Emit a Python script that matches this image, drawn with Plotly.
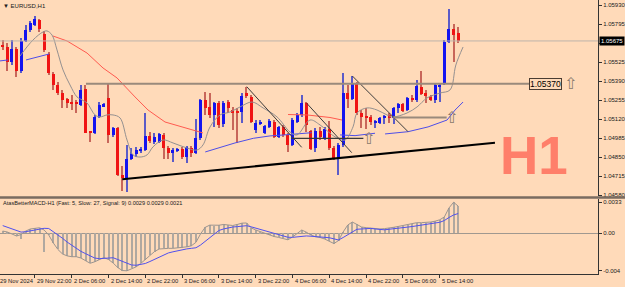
import plotly.graph_objects as go
import pandas as pd

# ---------------- data ----------------
times = list(pd.date_range("2024-11-29 15:00", "2024-11-29 23:00", freq="h")) + \
        list(pd.date_range("2024-12-02 00:00", periods=91, freq="h"))

opens = [1.05646, 1.05632, 1.05525, 1.05618, 1.05462, 1.05675, 1.05753, 1.05788, 1.05824, 1.05724,
         1.05582, 1.05440, 1.05362, 1.05305, 1.05263, 1.05241, 1.05241, 1.05220, 1.05334, 1.05028,
         1.05021, 1.05135, 1.05206, 1.05270, 1.05007, 1.05057, 1.04723, 1.04694, 1.04836, 1.04872,
         1.04893, 1.04900, 1.05000, 1.04957, 1.04957, 1.05007, 1.04914, 1.04879, 1.04893, 1.04907,
         1.04850, 1.04914, 1.04879, 1.04985, 1.05256, 1.05206, 1.05149, 1.05234, 1.05085, 1.05241,
         1.05184, 1.05177, 1.05170, 1.05305, 1.05277, 1.05042, 1.05085, 1.05021, 1.05064, 1.05099,
         1.04993, 1.05064, 1.05007, 1.04936, 1.05099, 1.05149, 1.05234, 1.05035, 1.04914, 1.05035,
         1.04985, 1.05049, 1.04914, 1.04836, 1.04936, 1.05305, 1.05263, 1.05376, 1.05163, 1.05142,
         1.05135, 1.05092, 1.05092, 1.05128, 1.05149, 1.05128, 1.05199, 1.05227, 1.05184, 1.05270,
         1.05256, 1.05348, 1.05305, 1.05277, 1.05256, 1.05348, 1.05376, 1.05668, 1.05760, 1.05732]
highs = [1.05682, 1.05661, 1.05682, 1.05632, 1.05696, 1.05788, 1.05817, 1.05852, 1.05831, 1.05746,
         1.05597, 1.05454, 1.05383, 1.05327, 1.05270, 1.05291, 1.05256, 1.05362, 1.05362, 1.05028,
         1.05149, 1.05241, 1.05234, 1.05376, 1.05064, 1.05064, 1.04787, 1.04936, 1.04914, 1.04922,
         1.04922, 1.05163, 1.05028, 1.05021, 1.05021, 1.05021, 1.04929, 1.04914, 1.04914, 1.04922,
         1.04929, 1.04929, 1.05121, 1.05263, 1.05312, 1.05305, 1.05241, 1.05248, 1.05248, 1.05256,
         1.05206, 1.05199, 1.05305, 1.05348, 1.05291, 1.05113, 1.05113, 1.05078, 1.05121, 1.05113,
         1.05071, 1.05078, 1.05021, 1.05128, 1.05163, 1.05291, 1.05241, 1.05042, 1.05057, 1.05064,
         1.05064, 1.05106, 1.04929, 1.04950, 1.05447, 1.05362, 1.05426, 1.05383, 1.05184, 1.05199,
         1.05149, 1.05113, 1.05135, 1.05149, 1.05163, 1.05206, 1.05234, 1.05234, 1.05277, 1.05291,
         1.05398, 1.05462, 1.05327, 1.05291, 1.05376, 1.05376, 1.05682, 1.05902, 1.05795, 1.05774]
lows = [1.05611, 1.05462, 1.05504, 1.05419, 1.05447, 1.05668, 1.05739, 1.05781, 1.05739, 1.05597,
        1.05433, 1.05327, 1.05291, 1.05199, 1.05199, 1.05184, 1.05163, 1.05213, 1.05021, 1.04957,
        1.05014, 1.05128, 1.05206, 1.04950, 1.04993, 1.04716, 1.04609, 1.04602, 1.04829, 1.04850,
        1.04879, 1.04893, 1.04950, 1.04943, 1.04950, 1.04836, 1.04836, 1.04815, 1.04886, 1.04836,
        1.04808, 1.04850, 1.04872, 1.04971, 1.05149, 1.05128, 1.05064, 1.05057, 1.05064, 1.05163,
        1.05042, 1.04950, 1.05092, 1.05270, 1.05092, 1.05021, 1.05078, 1.05014, 1.05057, 1.04985,
        1.04985, 1.04993, 1.04886, 1.04929, 1.05092, 1.05135, 1.05028, 1.04900, 1.04886, 1.04971,
        1.04971, 1.04900, 1.04829, 1.04723, 1.04922, 1.05199, 1.05256, 1.05149, 1.05057, 1.05049,
        1.05078, 1.05057, 1.05085, 1.05085, 1.05092, 1.05085, 1.05163, 1.05170, 1.05177, 1.05241,
        1.05241, 1.05291, 1.05234, 1.05248, 1.05234, 1.05241, 1.05362, 1.05661, 1.05525, 1.05661]
closes = [1.05632, 1.05525, 1.05618, 1.05462, 1.05675, 1.05753, 1.05803, 1.05831, 1.05760, 1.05611,
          1.05447, 1.05362, 1.05305, 1.05256, 1.05234, 1.05227, 1.05227, 1.05327, 1.05021, 1.05021,
          1.05135, 1.05220, 1.05227, 1.05007, 1.05057, 1.04723, 1.04701, 1.04836, 1.04872, 1.04900,
          1.04907, 1.05000, 1.04964, 1.04993, 1.05014, 1.04914, 1.04879, 1.04900, 1.04907, 1.04850,
          1.04922, 1.04879, 1.04985, 1.05256, 1.05199, 1.05149, 1.05234, 1.05078, 1.05234, 1.05199,
          1.05163, 1.05163, 1.05284, 1.05284, 1.05099, 1.05092, 1.05092, 1.05071, 1.05106, 1.04993,
          1.05064, 1.05007, 1.04936, 1.05113, 1.05149, 1.05234, 1.05078, 1.04907, 1.05035, 1.04993,
          1.05049, 1.04914, 1.04836, 1.04936, 1.05305, 1.05263, 1.05376, 1.05163, 1.05135, 1.05128,
          1.05099, 1.05099, 1.05128, 1.05142, 1.05128, 1.05199, 1.05227, 1.05177, 1.05270, 1.05256,
          1.05355, 1.05298, 1.05284, 1.05256, 1.05362, 1.05362, 1.05668, 1.05760, 1.05717, 1.05675]

# moving averages (bar position, price)
fast_ma_x = [3.76, 6.59, 8.76, 9.63, 10.72, 11.80, 13.11, 14.63, 16.15, 17.24, 18.33, 20.07, 21.15,
             22.67, 23.98, 25.50, 27.02, 28.33, 29.85, 31.37, 32.67, 34.85, 37.02, 40.07, 42.24, 43.54,
             45.07, 47.24, 49.41, 51.59, 54.20, 56.59, 59.63, 62.46, 63.98, 66.80, 68.98, 72.24, 74.41,
             76.15, 77.02, 79.20, 81.37, 83.54, 84.85, 87.89, 90.07, 92.24, 95.07, 97.24, 98.5, 100.07]
fast_ma_y = [1.05568, 1.05682, 1.05739, 1.05746, 1.05717, 1.05611, 1.05469, 1.05362, 1.05277, 1.05256,
             1.05234, 1.05149, 1.05135, 1.05149, 1.05149, 1.05128, 1.04971, 1.04865, 1.04850, 1.04865,
             1.04922, 1.04971, 1.04950, 1.04914, 1.04900, 1.04936, 1.05064, 1.05149, 1.05170, 1.05206,
             1.05241, 1.05199, 1.05135, 1.05028, 1.05007, 1.05113, 1.05078, 1.04993, 1.04971, 1.05064,
             1.05163, 1.05199, 1.05184, 1.05149, 1.05135, 1.05163, 1.05206, 1.05270, 1.05305, 1.05327,
             1.05504, 1.05632]
red_ma_x = [10.93, 13.98, 18.33, 21.8, 24.85, 27.02, 28.76, 31.59, 35.28, 38.98, 42.46, 43.54, None,
            62.02, 66.15, 71.15, 73.76]
red_ma_y = [1.05710, 1.05675, 1.05589, 1.05483, 1.05412, 1.05341, 1.05277, 1.05184, 1.05099, 1.05064,
            1.05028, 1.05021, None, 1.05152, 1.05149, 1.05131, 1.05113]
blue_ma_x = [-0.59, 1.15, None, 5.07, 10.07, None, 44.02, 47.24, 50.5, 54.48, 58.11, 62.46, 67.17, None,
             73.33, 76.59, 80.93, None, 83.11, 88.11, 92.46, 96.59, 98.33, 100.07]
blue_ma_y = [1.05533, 1.05540, None, 1.05540, 1.05582, None, 1.04886, 1.04919, 1.04950, 1.04983, 1.05000,
             1.05010, 1.05023, None, 1.05007, 1.05002, 1.05019, None, 1.05014, 1.05030, 1.05064, 1.05113,
             1.05184, 1.05241]

macd_line = [0.00024, 0.00014, -0.00007, -0.00029, -0.00013, 0.00024, 0.00046, 0.00056, 0.00059, 0.00035,
             -0.00018, -0.00103, -0.00172, -0.00220, -0.00240, -0.00249, -0.00249, -0.00263, -0.00290, -0.00319,
             -0.00303, -0.00279, -0.00258, -0.00279, -0.00316, -0.00364, -0.00396, -0.00399, -0.00374, -0.00357,
             -0.00321, -0.00279, -0.00231, -0.00194, -0.00167, -0.00160, -0.00160, -0.00160, -0.00156, -0.00153,
             -0.00144, -0.00133, -0.00096, -0.00007, 0.00063, 0.00087, 0.00083, 0.00086, 0.00094, 0.00085,
             0.00083, 0.00094, 0.00108, 0.00110, 0.00059, 0.00035, 0.00016, 0.00000, -0.00016, -0.00034,
             -0.00044, -0.00054, -0.00069, -0.00039, 0.00001, 0.00035, 0.00012, -0.00018, -0.00037, -0.00045,
             -0.00061, -0.00086, -0.00109, -0.00077, 0.00014, 0.00088, 0.00120, 0.00094, 0.00067, 0.00060,
             0.00053, 0.00050, 0.00046, 0.00050, 0.00054, 0.00064, 0.00073, 0.00082, 0.00090, 0.00101,
             0.00113, 0.00113, 0.00113, 0.00120, 0.00129, 0.00144, 0.00174, 0.00269, 0.00330, 0.00290]
macd_hist = [0.00024, 0.00014, -0.00007, -0.00029, -0.00061, 0.00024, 0.00046, 0.00056, 0.00059, -0.00199,
             -0.00018, -0.00103, -0.00172, -0.00220, -0.00240, -0.00249, -0.00249, -0.00263, -0.00290, -0.00319,
             -0.00303, -0.00279, -0.00258, -0.00279, -0.00316, -0.00364, -0.00396, -0.00399, -0.00374, -0.00357,
             -0.00321, -0.00279, -0.00231, -0.00194, -0.00167, -0.00160, -0.00160, -0.00160, -0.00156, -0.00153,
             -0.00144, -0.00133, -0.00096, -0.00007, 0.00063, 0.00087, 0.00083, 0.00086, 0.00094, 0.00085,
             0.00083, 0.00094, 0.00108, 0.00110, 0.00059, 0.00035, 0.00016, 0.00000, -0.00016, -0.00034,
             -0.00044, -0.00054, -0.00069, -0.00039, 0.00001, 0.00035, 0.00012, -0.00018, -0.00037, -0.00045,
             -0.00061, -0.00086, -0.00109, -0.00077, 0.00014, 0.00088, 0.00120, 0.00094, 0.00067, 0.00060,
             0.00053, 0.00050, 0.00046, 0.00050, 0.00054, 0.00064, 0.00073, 0.00082, 0.00090, 0.00101,
             0.00113, 0.00113, 0.00113, 0.00120, 0.00129, 0.00144, 0.00174, 0.00269, 0.00330, 0.00290]
macd_signal = [0.00082, 0.00063, 0.00046, 0.00026, 0.00013, 0.00017, 0.00026, 0.00038, 0.00052, 0.00053,
               0.00051, 0.00018, -0.00012, -0.00053, -0.00093, -0.00127, -0.00161, -0.00192, -0.00216, -0.00240,
               -0.00263, -0.00270, -0.00266, -0.00263, -0.00260, -0.00279, -0.00298, -0.00317, -0.00337, -0.00340,
               -0.00334, -0.00321, -0.00300, -0.00278, -0.00254, -0.00229, -0.00209, -0.00197, -0.00185, -0.00174,
               -0.00166, -0.00160, -0.00154, -0.00125, -0.00086, -0.00049, -0.00005, 0.00030, 0.00046, 0.00059,
               0.00067, 0.00071, 0.00077, 0.00081, 0.00069, 0.00055, 0.00042, 0.00027, 0.00012, -0.00002,
               -0.00016, -0.00030, -0.00042, -0.00043, -0.00036, -0.00028, -0.00028, -0.00031, -0.00035, -0.00037,
               -0.00038, -0.00047, -0.00059, -0.00071, -0.00045, -0.00018, 0.00014, 0.00043, 0.00046, 0.00050,
               0.00052, 0.00046, 0.00039, 0.00037, 0.00043, 0.00047, 0.00052, 0.00059, 0.00066, 0.00072,
               0.00078, 0.00086, 0.00094, 0.00101, 0.00110, 0.00117, 0.00136, 0.00168, 0.00195, 0.00210]

price_ticks = [1.04580, 1.04715, 1.04850, 1.04985, 1.05120, 1.05255, 1.05390, 1.05525, 1.05660, 1.05795, 1.05930]
macd_ticks = [0.0033, 0.0, -0.004]
macd_tick_text = ["0.0033", "0.00", "-0.004"]

# drawn objects
trend_line = (26.0, 1.04692, 107.0, 1.04951)
diag_lines = [(53.04, 1.05350, 64.99, 1.04919), (66.09, 1.05232, 75.87, 1.04881), (76.0, 1.05426, 88.11, 1.05030)]
level_lines = [(18.1, 114.4, 1.05370, "#9A8A7C", 2), (62.8, 78.4, 1.04983, "#3A3A3A", 1.2), (84.9, 96.5, 1.05131, "#9A8A7C", 2)]
arrow_marks = [(123.4, 1.05370), (79.5, 1.04983), (97.6, 1.05131)]
level_label = (114.4, 1.05370, "1.05370")

BG = "#FFDAB9"
FONT = "Liberation Sans"
XR = [-0.59, 129.4]

xs = list(range(len(opens)))
bull = [c >= o for o, c in zip(opens, closes)]

fig = go.Figure()
# wicks
fig.add_trace(go.Bar(x=xs, base=lows, y=[h - l for h, l in zip(highs, lows)], width=0.24,
                     marker=dict(color=["#5B5BC8" if b else "#C8665A" for b in bull], line=dict(width=0)),
                     xaxis="x", yaxis="y", hoverinfo="skip"))
# bodies
fig.add_trace(go.Bar(x=xs, base=[min(o, c) for o, c in zip(opens, closes)],
                     y=[max(abs(c - o), 0.00005) for o, c in zip(opens, closes)], width=0.66,
                     marker=dict(color=["#1414F0" if b else "#F01414" for b in bull], line=dict(width=0)),
                     xaxis="x", yaxis="y", hoverinfo="skip"))
# MAs
fig.add_trace(go.Scatter(x=red_ma_x, y=red_ma_y, mode="lines", line=dict(color="#FF5A50", width=1),
                         xaxis="x", yaxis="y", connectgaps=False))
fig.add_trace(go.Scatter(x=blue_ma_x, y=blue_ma_y, mode="lines", line=dict(color="#4E4EE8", width=1),
                         xaxis="x", yaxis="y", connectgaps=False))
fig.add_trace(go.Scatter(x=fast_ma_x, y=fast_ma_y, mode="lines", line=dict(color="#949090", width=1),
                         xaxis="x", yaxis="y", line_shape="spline"))

# MACD
fig.add_trace(go.Bar(x=xs, y=macd_hist, width=0.22, marker=dict(color="#B0A8A0", line=dict(width=0)),
                     xaxis="x2", yaxis="y2", hoverinfo="skip"))
fig.add_trace(go.Scatter(x=xs, y=macd_line, mode="lines", line=dict(color="#9C9590", width=1),
                         xaxis="x2", yaxis="y2"))
fig.add_trace(go.Scatter(x=xs, y=macd_signal, mode="lines", line=dict(color="#5050EE", width=1),
                         xaxis="x2", yaxis="y2"))

shapes = []
# current price line
shapes.append(dict(type="line", xref="paper", yref="y", x0=0, x1=1, y0=closes[-1], y1=closes[-1],
                   line=dict(color="#BDB3AA", width=1)))
# trend line
x0, y0, x1, y1 = trend_line
shapes.append(dict(type="line", xref="x", yref="y", x0=x0, y0=y0, x1=x1, y1=y1, line=dict(color="#000000", width=2)))
for (a, b, c, d) in diag_lines:
    shapes.append(dict(type="line", xref="x", yref="y", x0=a, y0=b, x1=c, y1=d, line=dict(color="#3C3C3C", width=1)))
for (a, b, p, col, w) in level_lines:
    shapes.append(dict(type="line", xref="x", yref="y", x0=a, y0=p, x1=b, y1=p, line=dict(color=col, width=w)))
# window separator
shapes.append(dict(type="line", xref="paper", yref="paper", x0=0, x1=1.05, y0=1 - 197.5 / 274, y1=1 - 197.5 / 274,
                   line=dict(color="#7A6B60", width=2.5)))

annotations = []
# watermark
annotations.append(dict(xref="paper", yref="paper", x=534 / 598, y=1 - 155 / 274, text="<b>H1</b>", showarrow=False,
                        font=dict(family=FONT, size=53, color="#FF7F6A"), xanchor="center", yanchor="middle"))
# title
annotations.append(dict(xref="paper", yref="paper", x=0, y=1, xshift=1, yshift=-1, text="▼ EURUSD,H1", showarrow=False,
                        font=dict(family=FONT, size=6, color="#202020"), xanchor="left", yanchor="top"))
annotations.append(dict(xref="paper", yref="paper", x=0, y=1 - 203 / 274, xshift=1,
                        text="AtasBetterMACD-H1 (Fast: 5, Slow: 27, Signal: 9) %.4f %.4f %.4f" % (macd_line[-1], macd_hist[-1], macd_signal[-1]),
                        showarrow=False, font=dict(family=FONT, size=5.6, color="#202020"), xanchor="left", yanchor="middle"))
# bid box
annotations.append(dict(xref="paper", yref="y", x=1, y=closes[-1], xshift=1, text="%.5f" % closes[-1], showarrow=False,
                        font=dict(family=FONT, size=6, color="#FFFFFF"), bgcolor="#000000", borderpad=1,
                        xanchor="left", yanchor="middle"))
# level label
lx, ly, lt = level_label
annotations.append(dict(xref="x", yref="y", x=lx, y=ly, text=lt, showarrow=False,
                        font=dict(family=FONT, size=8.5, color="#000000"), bordercolor="#4A3C32", borderwidth=1,
                        borderpad=0, xanchor="left", yanchor="middle"))
for (ax, ay) in arrow_marks:
    annotations.append(dict(xref="x", yref="y", x=ax, y=ay, text="⇧", showarrow=False,
                            font=dict(family="DejaVu Sans", size=16, color="#8A7A6C"), xanchor="center", yanchor="middle"))
# time labels (positions converted to paper fraction so the first, partly hidden label still shows)
tick_idx = [i for i, t in enumerate(times) if t.hour % 8 == 6]
for i in [-1] + tick_idx:
    if i < 0:
        label = "29 Nov 2024"
    else:
        t = times[i]
        label = "%d %s" % (t.day, t.strftime("%b %H:%M"))
    xp = (i - XR[0]) / (XR[1] - XR[0])
    annotations.append(dict(xref="paper", yref="paper", x=xp, y=0, yshift=-2, xshift=0, text=label, showarrow=False,
                            font=dict(family=FONT, size=5.8, color="#202020"), xanchor="left", yanchor="top"))

axis_font = dict(family=FONT, size=6, color="#202020")
fig.update_layout(
    width=625, height=287, margin=dict(l=0, r=27, t=0, b=13),
    paper_bgcolor=BG, plot_bgcolor=BG, showlegend=False, barmode="overlay", bargap=0,
    xaxis=dict(domain=[0, 1], range=XR, anchor="y", showticklabels=False, showgrid=False, zeroline=False,
               showline=False, ticks=""),
    yaxis=dict(domain=[1 - 196 / 274, 1], range=[1.04573, 1.05966], side="right", anchor="x",
               tickvals=price_ticks,
               ticktext=["" if abs(v - closes[-1]) < 0.0004 else "%.5f" % v for v in price_ticks],
               ticks="outside", ticklen=3,
               tickcolor="#333333", showline=True, linecolor="#333333", linewidth=1, showgrid=False,
               zeroline=False, tickfont=axis_font),
    xaxis2=dict(domain=[0, 1], range=XR, anchor="y2", tickvals=tick_idx, ticks="outside", ticklen=3,
                tickcolor="#333333", showticklabels=False, showline=True, linecolor="#333333", linewidth=1,
                showgrid=False, zeroline=False),
    yaxis2=dict(domain=[0, 1 - 199 / 274], range=[-0.00433, 0.00365], side="right", anchor="x2",
                tickvals=macd_ticks, ticktext=macd_tick_text, ticks="outside", ticklen=3, tickcolor="#333333",
                showline=True, linecolor="#333333", linewidth=1, showgrid=False, zeroline=True,
                zerolinecolor="#A09890", zerolinewidth=1, tickfont=axis_font),
    shapes=shapes, annotations=annotations,
)
fig.write_html("out.html")
